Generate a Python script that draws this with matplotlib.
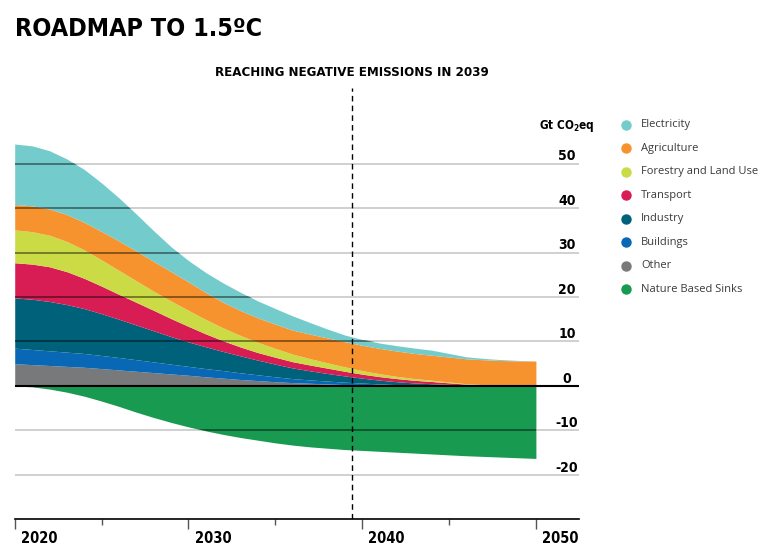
import matplotlib
matplotlib.use("Agg")
import matplotlib.pyplot as plt
from matplotlib import font_manager as fm
from matplotlib.lines import Line2D
import numpy as np

# data, Gt CO2eq
years = list(range(2020, 2051))
other = [5.0, 4.8, 4.6, 4.4, 4.2, 3.9, 3.6, 3.3, 3.0, 2.7, 2.4, 2.05, 1.75, 1.45, 1.2, 0.95,
         0.75, 0.6, 0.45, 0.3, 0.2, 0.1, 0.05, 0.02, 0, 0, 0, 0, 0, 0, 0]
buildings = [3.5, 3.4, 3.3, 3.2, 3.1, 2.95, 2.8, 2.6, 2.4, 2.2, 2.0, 1.85, 1.7, 1.5, 1.3, 1.1,
             0.9, 0.75, 0.65, 0.55, 0.45, 0.35, 0.25, 0.15, 0.1, 0.05, 0, 0, 0, 0, 0]
industry = [11.3, 11.3, 11.1, 10.7, 10.1, 9.4, 8.6, 7.8, 7.0, 6.2, 5.5, 4.9, 4.3, 3.8, 3.3, 2.85,
            2.4, 2.05, 1.7, 1.4, 1.1, 0.85, 0.65, 0.5, 0.4, 0.3, 0.2, 0.12, 0.05, 0.02, 0]
transport = [7.9, 7.9, 7.8, 7.4, 6.8, 6.2, 5.6, 5.1, 4.6, 4.05, 3.5, 2.9, 2.4, 2.0, 1.7, 1.55,
             1.4, 1.3, 1.2, 1.05, 0.9, 0.8, 0.7, 0.6, 0.5, 0.35, 0.2, 0.12, 0.05, 0.02, 0]
forestry = [7.4, 7.3, 7.1, 6.8, 6.4, 5.9, 5.4, 4.85, 4.3, 3.95, 3.6, 3.25, 2.9, 2.6, 2.3, 2.0,
            1.7, 1.45, 1.2, 1.0, 0.8, 0.65, 0.5, 0.4, 0.3, 0.2, 0.1, 0.05, 0.02, 0, 0]
agriculture = [5.7, 5.8, 5.9, 6.05, 6.2, 6.4, 6.6, 6.7, 6.7, 6.6, 6.4, 6.05, 5.75, 5.6, 5.5, 5.45,
               5.4, 5.5, 5.6, 5.65, 5.7, 5.7, 5.7, 5.65, 5.6, 5.6, 5.6, 5.6, 5.6, 5.6, 5.6]
electricity = [13.6, 13.5, 13.1, 12.5, 11.9, 10.9, 9.7, 8.3, 6.9, 5.6, 4.8, 4.5, 4.35, 4.1, 3.8, 3.5,
               3.2, 2.6, 2.0, 1.5, 1.3, 1.2, 1.2, 1.2, 1.15, 0.8, 0.45, 0.3, 0.2, 0.1, 0]
nature_sinks = [0, -0.2, -0.7, -1.4, -2.3, -3.4, -4.6, -5.9, -7.1, -8.2, -9.2, -10.1, -10.9,
                -11.6, -12.2, -12.8, -13.3, -13.7, -14.0, -14.3, -14.5, -14.7, -14.9, -15.1,
                -15.3, -15.5, -15.7, -15.85, -16.0, -16.15, -16.3]

# bottom -> top of the stack
sectors = ["Other", "Buildings", "Industry", "Transport",
           "Forestry and Land Use", "Agriculture", "Electricity"]
sector_values = [other, buildings, industry, transport, forestry, agriculture, electricity]
colors = {
    "Electricity": "#74cbcc",
    "Agriculture": "#f6932f",
    "Forestry and Land Use": "#cbdb46",
    "Transport": "#d71d54",
    "Industry": "#00627a",
    "Buildings": "#0868b5",
    "Other": "#77797b",
    "Nature Based Sinks": "#189a51",
}
legend_order = ["Electricity", "Agriculture", "Forestry and Land Use", "Transport",
                "Industry", "Buildings", "Other", "Nature Based Sinks"]
y_ticks = [50, 40, 30, 20, 10, 0, -10, -20]
x_ticks = [2020, 2030, 2040, 2050]
negative_year = 2039


def narrow_bold():
    # narrowest bold upright face that is installed, if any
    best = None
    for f in fm.fontManager.ttflist:
        w = f.weight if isinstance(f.weight, int) else fm.weight_dict.get(f.weight, 400)
        s = f.stretch if isinstance(f.stretch, int) else fm.stretch_dict.get(f.stretch, 500)
        if w < 600 or f.style != "normal" or s >= 500:
            continue
        key = (s, abs(w - 700))
        if best is None or key < best[0]:
            best = (key, f)
    return best[1] if best else None


nf = narrow_bold()
if nf is not None:
    head = fm.FontProperties(fname=nf.fname)
    k = 1.0
else:
    head = fm.FontProperties(family="DejaVu Sans", weight="bold")
    k = 0.85


def hfont(size):
    p = head.copy()
    p.set_size(size * k)
    return p


fig = plt.figure(figsize=(7.58, 5.49), dpi=100)
ax = fig.add_axes([0.0194, 0.054, 0.7449, 0.7857])
ax.set_xlim(2020, 2052.5)
ax.set_ylim(-30, 67)

fills = []
base = np.zeros(len(years))
for name, vals in zip(sectors, sector_values):
    top = base + np.array(vals)
    fills.append(ax.fill_between(years, base, top, color=colors[name], lw=0, zorder=2))
    base = top
fills.append(ax.fill_between(years, 0, nature_sinks, color=colors["Nature Based Sinks"],
                             lw=0, zorder=2))

# grid: light on white, darker where it crosses the coloured areas
for v in y_ticks:
    if v == 0:
        ax.axhline(0, color="black", lw=1.5, zorder=5)
    else:
        ax.axhline(v, color="#c8c8c8", lw=1.2, zorder=1)
        for f in fills:
            ln = ax.axhline(v, color="black", alpha=0.5, lw=1.2, zorder=3)
            ln.set_clip_path(f.get_paths()[0], transform=ax.transData)
    ax.text(0.978, v + 0.7, str(v), transform=ax.get_yaxis_transform(),
            ha="center", va="baseline", fontproperties=hfont(10), zorder=6)

ax.text(0.978, 58.5, r"Gt CO$_\mathregular{2}$eq", transform=ax.get_yaxis_transform(),
        ha="center", va="center", fontproperties=hfont(8.5))

# dashed marker where the total turns negative (drawn where the reference has it)
ax.axvline(negative_year + 0.4, color="black", lw=1, ls=(0, (4, 3)), zorder=6)

for s in ["top", "right", "left"]:
    ax.spines[s].set_visible(False)
ax.spines["bottom"].set_linewidth(1.2)
ax.set_yticks([])
ax.set_xticks(x_ticks)
ax.set_xticks([2025, 2035, 2045], minor=True)
ax.tick_params(axis="x", which="major", length=7, width=1, color="#555555", labelbottom=False)
ax.tick_params(axis="x", which="minor", length=4, width=1, color="#555555")
for yr in x_ticks:
    ax.annotate(str(yr), xy=(yr, 0), xycoords=("data", "axes fraction"),
                xytext=(4.5, -8.5), textcoords="offset points",
                ha="left", va="top", fontproperties=hfont(10.5))

fig.text(15 / 758, 1 - 29 / 549, "ROADMAP TO 1.5ºC", ha="left", va="center",
         fontproperties=hfont(18))
fig.text(352 / 758, 1 - 73 / 549, "REACHING NEGATIVE EMISSIONS IN 2039",
         ha="center", va="center", fontproperties=hfont(9.5))

# legend
for i, name in enumerate(legend_order):
    y = 1 - (125 + i * 23.45) / 549
    fig.add_artist(Line2D([626 / 758], [y], marker="o", markersize=6.5,
                          color=colors[name], lw=0))
    fig.text(641 / 758, y, name, ha="left", va="center", fontsize=8,
             family=["Open Sans", "DejaVu Sans"], color="#3a3a3a")

fig.savefig("out.png", dpi=100)
